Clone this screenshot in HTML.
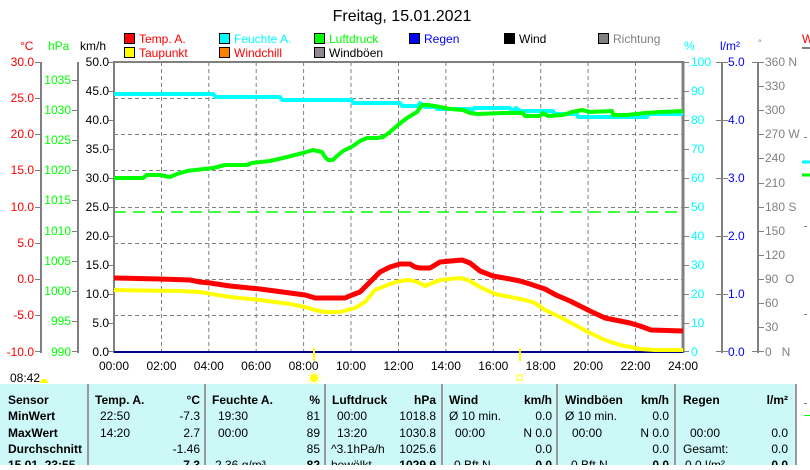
<!DOCTYPE html>
<html><head><meta charset="utf-8"><style>
body{margin:0;background:#fff;width:810px;height:465px;overflow:hidden;font-family:"Liberation Sans",sans-serif}
svg text{font-family:"Liberation Sans",sans-serif}
</style></head><body>
<svg width="810" height="465" viewBox="0 0 810 465" xmlns="http://www.w3.org/2000/svg">
<text x="402" y="21" font-size="16" text-anchor="middle" fill="#000">Freitag, 15.01.2021</text>
<!-- legend -->
<g font-size="12">
<rect x="124.5" y="33.5" width="10" height="10" fill="#f00" stroke="#000"/><text x="139" y="43" fill="#f00">Temp. A.</text>
<rect x="219.5" y="33.5" width="10" height="10" fill="#0ff" stroke="#000"/><text x="234" y="43" fill="#0ff">Feuchte A.</text>
<rect x="314.5" y="33.5" width="10" height="10" fill="#0f0" stroke="#000"/><text x="329" y="43" fill="#0f0">Luftdruck</text>
<rect x="409.5" y="33.5" width="10" height="10" fill="#00f" stroke="#000"/><text x="424" y="43" fill="#00f">Regen</text>
<rect x="504.5" y="33.5" width="10" height="10" fill="#000" stroke="#000"/><text x="519" y="43" fill="#000">Wind</text>
<rect x="598.5" y="33.5" width="10" height="10" fill="#808080" stroke="#000"/><text x="613" y="43" fill="#808080">Richtung</text>
<rect x="124.5" y="47.5" width="10" height="10" fill="#ff0" stroke="#000"/><text x="139" y="57" fill="#f00">Taupunkt</text>
<rect x="219.5" y="47.5" width="10" height="10" fill="#ff8000" stroke="#000"/><text x="234" y="57" fill="#f00">Windchill</text>
<rect x="314.5" y="47.5" width="10" height="10" fill="#908890" stroke="#000"/><text x="329" y="57" fill="#000">Windböen</text>
</g>
<g font-size="12">
<text x="20" y="50" fill="#f00">°C</text><text x="48" y="50" fill="#0f0">hPa</text><text x="80" y="50" fill="#000">km/h</text>
<text x="684" y="50" fill="#0ff">%</text><text x="720" y="50" fill="#00f">l/m²</text><text x="758" y="46" fill="#808080" font-size="9">°</text>
<text x="802" y="43" fill="#f00">W</text>
</g>
<line x1="802" y1="48" x2="810" y2="48" stroke="#808080" stroke-width="2"/>
<line x1="802" y1="162" x2="810" y2="162" stroke="#0ff" stroke-width="3"/>
<line x1="802" y1="175" x2="810" y2="175" stroke="#0f0" stroke-width="3"/>
<g stroke="#808080"><line x1="804" y1="137.5" x2="807" y2="137.5"/><line x1="804" y1="226.5" x2="807" y2="226.5"/><line x1="804" y1="314.5" x2="807" y2="314.5"/></g>
<!-- grid -->
<g stroke="#808080" stroke-dasharray="4,3" stroke-width="1">
<line x1="161.5" y1="62" x2="161.5" y2="352"/><line x1="208.8" y1="62" x2="208.8" y2="352"/><line x1="256.2" y1="62" x2="256.2" y2="352"/><line x1="303.6" y1="62" x2="303.6" y2="352"/><line x1="351" y1="62" x2="351" y2="352"/><line x1="398.5" y1="62" x2="398.5" y2="352"/><line x1="445.9" y1="62" x2="445.9" y2="352"/><line x1="493.3" y1="62" x2="493.3" y2="352"/><line x1="540.7" y1="62" x2="540.7" y2="352"/><line x1="588.1" y1="62" x2="588.1" y2="352"/><line x1="635.5" y1="62" x2="635.5" y2="352"/>
<line x1="114" y1="98.5" x2="683" y2="98.5"/><line x1="114" y1="134.5" x2="683" y2="134.5"/><line x1="114" y1="170.5" x2="683" y2="170.5"/><line x1="114" y1="207.5" x2="683" y2="207.5"/><line x1="114" y1="243.5" x2="683" y2="243.5"/><line x1="114" y1="279.5" x2="683" y2="279.5"/><line x1="114" y1="315.5" x2="683" y2="315.5"/>
</g>
<line x1="114" y1="212" x2="683" y2="212" stroke="#0f0" stroke-width="1.5" stroke-dasharray="12,7"/>
<!-- plot frame -->
<line x1="113" y1="62" x2="684" y2="62" stroke="#808080" stroke-width="2"/>
<line x1="114" y1="61" x2="114" y2="353" stroke="#808080" stroke-width="2"/>
<line x1="683" y1="61" x2="683" y2="353" stroke="#808080" stroke-width="3"/>
<line x1="114" y1="352" x2="683" y2="352" stroke="#00008b" stroke-width="2"/>
<!-- series -->
<g fill="none" stroke-width="4" stroke-linejoin="round">
<polyline stroke="#0ff" points="114,94 213,94 216,97 280,97 282,100 352,100 353,103 400,103 402,106 418,106 420,103 425,107 437,107 437,109 470,109 472,112 474,108 510,108 512,111 516,108 520,111 553,111 555,114 577,114 578,117 647,117 648,114 683,114"/>
<polyline stroke="#0f0" points="114,178 143,178 147,175 160,175 170,177 177,174 187,171 195,170 213,168 225,165 247,165 252,163 270,161 287,157 303,153 313,150 322,152 325,157 328,160 333,160 337,156 343,151 353,146 360,141 367,138 377,138 383,137 390,132 398,125 407,118 417,112 422,105 428,105 435,106 450,109 463,110 470,113 477,114 503,113 523,113 525,116 540,116 543,113 548,116 563,115 572,112 582,110 590,112 612,111 613,115 627,115 645,113 660,112 683,111"/>
<polyline stroke="#ff0" points="114,290 180,291 200,292 230,297 260,300 290,304 305,307 315,310 325,312 340,312 355,308 365,302 375,290 390,284 400,281 410,280 420,283 425,286 430,284 440,280 460,278 468,280 480,287 495,294 510,297 525,300 535,303 545,310 560,317 575,325 590,333 605,340 620,345 640,349 655,350 683,350"/>
<polyline stroke="#f00" stroke-width="5" points="114,278 160,279 190,280 200,282 210,283 230,286 260,289 290,293 305,295 312,297 315,298 345,298 352,295 360,292 370,282 380,272 390,267 400,264 410,264 415,267 420,268 430,268 440,262 462,260 470,263 480,271 493,276 510,279 520,281 530,284 545,289 556,295 570,301 590,311 605,318 630,323 640,326 651,330 683,331"/>
</g>
<!-- left axes -->
<g stroke="#808080" stroke-width="2"><line x1="41" y1="62" x2="41" y2="353"/><line x1="78" y1="62" x2="78" y2="353"/><line x1="722" y1="62" x2="722" y2="353"/><line x1="758" y1="62" x2="758" y2="353"/></g>
<g stroke="#808080" stroke-width="1">
<path d="M35 62.5H41M35 98.5H41M35 134.5H41M35 170.5H41M35 207.5H41M35 243.5H41M35 279.5H41M35 315.5H41M35 351.5H41"/>
<path d="M72 80.5H78M72 110.5H78M72 140.5H78M72 170.5H78M72 200.5H78M72 231.5H78M72 261.5H78M72 291.5H78M72 321.5H78M72 351.5H78"/>
<path d="M108 62.5H114M108 91.5H114M108 120.5H114M108 149.5H114M108 178.5H114M108 207.5H114M108 236.5H114M108 265.5H114M108 294.5H114M108 323.5H114M108 351.5H114"/>
<path d="M683 62.5H689M683 91.5H689M683 120.5H689M683 149.5H689M683 178.5H689M683 207.5H689M683 236.5H689M683 265.5H689M683 294.5H689M683 323.5H689M683 351.5H689"/>
<path d="M716 62.5H728M716 120.5H728M716 178.5H728M716 236.5H728M716 294.5H728M716 351.5H728"/>
<path d="M752 62.5H764M758 86.5H764M758 110.5H764M758 134.5H764M758 158.5H764M758 183.5H764M758 207.5H764M758 231.5H764M758 255.5H764M758 279.5H764M758 303.5H764M758 327.5H764M752 351.5H764"/>
</g>
<g font-size="12" text-anchor="end" fill="#f00">
<text x="34" y="66">30.0</text><text x="34" y="102">25.0</text><text x="34" y="138">20.0</text><text x="34" y="174">15.0</text><text x="34" y="211">10.0</text><text x="34" y="247">5.0</text><text x="34" y="283">0.0</text><text x="34" y="319">-5.0</text><text x="34" y="356">-10.0</text>
</g>
<g font-size="12" text-anchor="end" fill="#0f0">
<text x="71" y="84">1035</text><text x="71" y="114">1030</text><text x="71" y="144">1025</text><text x="71" y="174">1020</text><text x="71" y="204">1015</text><text x="71" y="235">1010</text><text x="71" y="265">1005</text><text x="71" y="295">1000</text><text x="71" y="325">995</text><text x="71" y="356">990</text>
</g>
<g font-size="12" text-anchor="end" fill="#000">
<text x="109" y="66">50.0</text><text x="109" y="95">45.0</text><text x="109" y="124">40.0</text><text x="109" y="153">35.0</text><text x="109" y="182">30.0</text><text x="109" y="211">25.0</text><text x="109" y="240">20.0</text><text x="109" y="269">15.0</text><text x="109" y="298">10.0</text><text x="109" y="327">5.0</text><text x="109" y="356">0.0</text>
</g>
<g font-size="12" fill="#0ff">
<text x="691" y="66">100</text><text x="691" y="95">90</text><text x="691" y="124">80</text><text x="691" y="153">70</text><text x="691" y="182">60</text><text x="691" y="211">50</text><text x="691" y="240">40</text><text x="691" y="269">30</text><text x="691" y="298">20</text><text x="691" y="327">10</text><text x="691" y="356">0</text>
</g>
<g font-size="12" fill="#00f">
<text x="728" y="66">5.0</text><text x="728" y="124">4.0</text><text x="728" y="182">3.0</text><text x="728" y="240">2.0</text><text x="728" y="298">1.0</text><text x="728" y="356">0.0</text>
</g>
<g font-size="12" fill="#808080">
<text x="765" y="66">360 N</text><text x="765" y="90">330</text><text x="765" y="114">300</text><text x="765" y="138">270 W</text><text x="765" y="162">240</text><text x="765" y="187">210</text><text x="765" y="211">180 S</text><text x="765" y="235">150</text><text x="765" y="259">120</text><text x="765" y="283">90&#160;&#160;O</text><text x="765" y="307">60</text><text x="765" y="331">30</text><text x="765" y="356">0&#160;&#160;&#160;N</text>
</g>
<g font-size="12" text-anchor="middle" fill="#000">
<text x="114" y="370">00:00</text><text x="161.5" y="370">02:00</text><text x="208.8" y="370">04:00</text><text x="256.2" y="370">06:00</text><text x="303.6" y="370">08:00</text><text x="351" y="370">10:00</text><text x="398.5" y="370">12:00</text><text x="445.9" y="370">14:00</text><text x="493.3" y="370">16:00</text><text x="540.7" y="370">18:00</text><text x="588.1" y="370">20:00</text><text x="635.5" y="370">22:00</text><text x="683" y="370">24:00</text>
</g>
<line x1="314" y1="348" x2="314" y2="361" stroke="#ff0" stroke-width="2"/>
<line x1="520" y1="348" x2="520" y2="361" stroke="#ff0" stroke-width="2"/>
<circle cx="314" cy="378" r="4" fill="#ff0"/><circle cx="314" cy="378" r="6" fill="none" stroke="#ff0" stroke-dasharray="1,2"/>
<rect x="517" y="375" width="5" height="5" fill="none" stroke="#ff0"/>
<text x="10" y="382" font-size="12" fill="#000">08:42</text>
<path d="M40 383 a4 4 0 0 1 8 0z" fill="#ff0"/>
<!-- table -->
<rect x="0" y="384" width="796" height="81" fill="#ccf8f8"/>
<g stroke="#999" stroke-width="2"><line x1="88" y1="384" x2="88" y2="465"/><line x1="205" y1="384" x2="205" y2="465"/><line x1="325" y1="384" x2="325" y2="465"/><line x1="442" y1="384" x2="442" y2="465"/><line x1="557" y1="384" x2="557" y2="465"/><line x1="675" y1="384" x2="675" y2="465"/><line x1="796" y1="384" x2="796" y2="465"/></g>
<g font-size="12" font-weight="bold" fill="#000">
<text x="8" y="404">Sensor</text><text x="8" y="420">MinWert</text><text x="8" y="437">MaxWert</text><text x="8" y="453">Durchschnitt</text><text x="8" y="469">15.01. 23:55</text>
<text x="95" y="404">Temp. A.</text><text x="212" y="404">Feuchte A.</text><text x="332" y="404">Luftdruck</text><text x="449" y="404">Wind</text><text x="565" y="404">Windböen</text><text x="683" y="404">Regen</text>
</g>
<g font-size="12" font-weight="bold" text-anchor="end" fill="#000">
<text x="200" y="404">°C</text><text x="320" y="404">%</text><text x="436" y="404">hPa</text><text x="552" y="404">km/h</text><text x="669" y="404">km/h</text><text x="788" y="404">l/m²</text>
<text x="200" y="469">-7.3</text><text x="320" y="469">82</text><text x="436" y="469">1029.9</text><text x="552" y="469">0.0</text><text x="669" y="469">0.0</text><text x="788" y="469">0.0</text>
</g>
<g font-size="12" fill="#000">
<text x="100" y="420">22:50</text><text x="100" y="437">14:20</text>
<text x="218" y="420">19:30</text><text x="218" y="437">00:00</text><text x="215" y="469">2.36 g/m³</text>
<text x="337" y="420">00:00</text><text x="337" y="437">13:20</text><text x="331" y="453">^3.1hPa/h</text><text x="331" y="469">bewölkt</text>
<text x="449" y="420">Ø 10 min.</text><text x="455" y="437">00:00</text><text x="454" y="469">0 Bft N</text>
<text x="565" y="420">Ø 10 min.</text><text x="572" y="437">00:00</text><text x="571" y="469">0 Bft N</text>
<text x="690" y="437">00:00</text><text x="683" y="453">Gesamt:</text><text x="685" y="469">0.0 l/m²</text>
</g>
<g font-size="12" text-anchor="end" fill="#000">
<text x="200" y="420">-7.3</text><text x="200" y="437">2.7</text><text x="200" y="453">-1.46</text>
<text x="320" y="420">81</text><text x="320" y="437">89</text><text x="320" y="453">85</text>
<text x="436" y="420">1018.8</text><text x="436" y="437">1030.8</text><text x="436" y="453">1025.6</text>
<text x="552" y="420">0.0</text><text x="552" y="437">N 0.0</text><text x="552" y="453">0.0</text>
<text x="669" y="420">0.0</text><text x="669" y="437">N 0.0</text><text x="669" y="453">0.0</text>
<text x="788" y="437">0.0</text><text x="788" y="453">0.0</text>
</g>
<g stroke="#808080"><line x1="804" y1="403.5" x2="807" y2="403.5"/></g>
<line x1="804" y1="415.5" x2="810" y2="415.5" stroke="#0f0"/>
</svg>
</body></html>
